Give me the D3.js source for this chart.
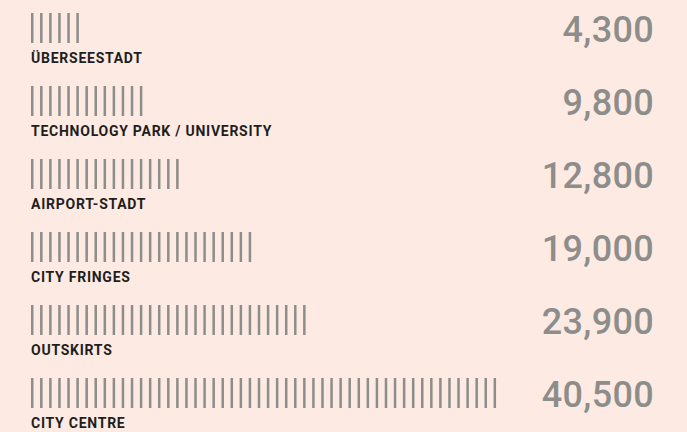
<!DOCTYPE html>
<html><head><meta charset="utf-8">
<script src="https://cdn.jsdelivr.net/npm/d3@7"></script>
<style>
html,body{margin:0;padding:0;background:#fdebe3;}
svg{display:block;}
</style></head>
<body>
<script>
const categories = ["ÜBERSEESTADT","TECHNOLOGY PARK / UNIVERSITY","AIRPORT-STADT","CITY FRINGES","OUTSKIRTS","CITY CENTRE"];
const values = [4300, 9800, 12800, 19000, 23900, 40500];
const valueLabels = ["4,300","9,800","12,800","19,000","23,900","40,500"];
const unitPerTick = 780;

const W = 687, H = 432;
const svg = d3.select("body").append("svg").attr("width", W).attr("height", H);
svg.append("rect").attr("width", W).attr("height", H).attr("fill", "#fdebe3");

const y = d3.scaleBand().domain(categories).range([0, 438]).paddingInner(0).paddingOuter(0);
const x = d3.scaleLinear().domain([0, unitPerTick]).range([0, 9.07]);
const x0 = 31;

const rows = svg.selectAll("g.row").data(categories.map((c,i)=>({c, v: values[i], lab: valueLabels[i]})))
  .join("g").attr("class","row")
  .attr("transform", d => `translate(0,${y(d.c)})`);

rows.selectAll("rect.tick")
  .data(d => d3.range(Math.ceil(d.v / unitPerTick)).map(i => i * unitPerTick))
  .join("rect").attr("class","tick")
  .attr("x", d => x0 + x(d))
  .attr("y", 13)
  .attr("width", 2.5)
  .attr("height", 30)
  .attr("fill", "#8d8d8b");

rows.append("text")
  .attr("x", 31).attr("y", 63)
  .attr("font-family", "Roboto, sans-serif")
  .attr("font-weight", 700)
  .attr("font-size", 14)
  .attr("letter-spacing", 0.75)
  .attr("fill", "#1e1e1e")
  .text(d => d.c);

rows.append("text")
  .attr("x", 654).attr("y", 42)
  .attr("text-anchor", "end")
  .attr("font-family", "Roboto, sans-serif")
  .attr("font-weight", 500)
  .attr("font-size", 36)
  .attr("letter-spacing", 0.3)
  .attr("fill", "#8d8d8b")
  .text(d => d.lab);
</script>
</body></html>
